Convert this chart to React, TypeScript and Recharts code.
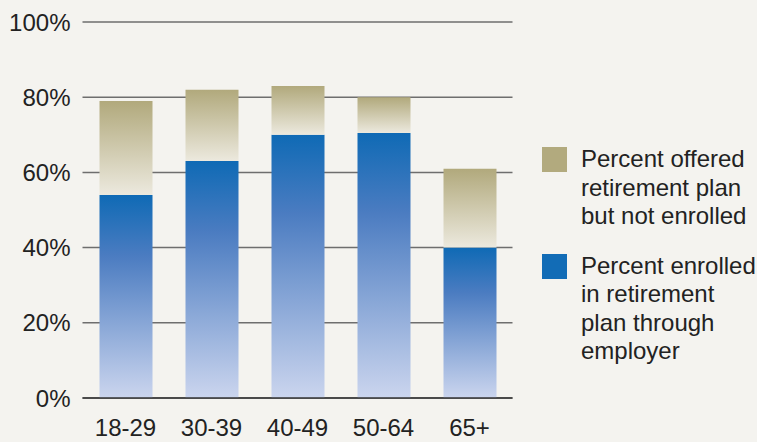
import { BarChart, Bar, XAxis, YAxis, CartesianGrid, Legend } from 'recharts';

const ageGroups = ['18-29', '30-39', '40-49', '50-64', '65+'];
const enrolled = [54, 63, 70, 70.5, 40];
const offeredNotEnrolled = [25, 19, 13, 9.5, 21];
const yTicks = [0, 20, 40, 60, 80, 100];

const FONT = '"Liberation Sans", Arial, Helvetica, sans-serif';
const TAN = '#b2aa7e';
const BLUE = '#126cb6';
const LEGEND_W = 215;

const chartData = ageGroups.map((age, i) => ({
  age,
  enrolled: enrolled[i],
  offered: offeredNotEnrolled[i],
}));

const legendItems = [
  { color: TAN, lines: ['Percent offered', 'retirement plan', 'but not enrolled'] },
  { color: BLUE, lines: ['Percent enrolled', 'in retirement', 'plan through', 'employer'] },
];

function LegendBox() {
  return (
    <div style={{ fontFamily: FONT, fontSize: 24, color: '#222', lineHeight: '28.5px' }}>
      {legendItems.map((item, i) => (
        <div key={i} style={{ display: 'flex', marginBottom: i === 0 ? 21 : 0 }}>
          <div style={{ width: 25, height: 25, background: item.color, marginTop: 2, marginRight: 14, flex: 'none' }} />
          <div style={{ whiteSpace: 'nowrap' }}>
            {item.lines.map((l, j) => (
              <div key={j}>{l}</div>
            ))}
          </div>
        </div>
      ))}
    </div>
  );
}

export default function App() {
  return (
    <div style={{ position: 'absolute', left: 0, top: 0, width: 757, height: 442, background: '#f4f3ef' }}>
      <BarChart
        width={757}
        height={442}
        data={chartData}
        // legend width gets added to the right offset, so subtract it here
        margin={{ top: 22, right: 244.5 - LEGEND_W, bottom: 0, left: 0.5 }}
      >
        <defs>
          <linearGradient id="blueGrad" x1="0" y1="0" x2="0" y2="1">
            <stop offset="0" stopColor="#0f6ab5" />
            <stop offset="0.3" stopColor="#4b7cc1" />
            <stop offset="1" stopColor="#cbd5ee" />
          </linearGradient>
          <linearGradient id="tanGrad" x1="0" y1="0" x2="0" y2="1">
            <stop offset="0" stopColor="#b1a97c" />
            <stop offset="1" stopColor="#ece9de" />
          </linearGradient>
        </defs>
        <CartesianGrid vertical={false} stroke="#6e6e6e" strokeWidth={1.5} />
        <XAxis
          dataKey="age"
          height={44}
          interval={0}
          tickLine={false}
          tickSize={6}
          tickMargin={15}
          axisLine={{ stroke: '#333', strokeWidth: 1.5 }}
          tick={{ fill: '#222', fontSize: 24, fontFamily: FONT }}
        />
        <YAxis
          width={82}
          domain={[0, 100]}
          ticks={yTicks}
          tickFormatter={(v) => `${v}%`}
          axisLine={false}
          tickLine={false}
          tickSize={6}
          tickMargin={6}
          tick={{ fill: '#222', fontSize: 24, fontFamily: FONT }}
        />
        <Legend
          layout="horizontal"
          verticalAlign="middle"
          align="right"
          content={<LegendBox />}
          wrapperStyle={{ left: 542, top: 145, right: 'auto', width: LEGEND_W }}
        />
        <Bar dataKey="enrolled" stackId="a" barSize={53} fill="url(#blueGrad)" isAnimationActive={false} />
        <Bar dataKey="offered" stackId="a" barSize={53} fill="url(#tanGrad)" isAnimationActive={false} />
      </BarChart>
    </div>
  );
}
